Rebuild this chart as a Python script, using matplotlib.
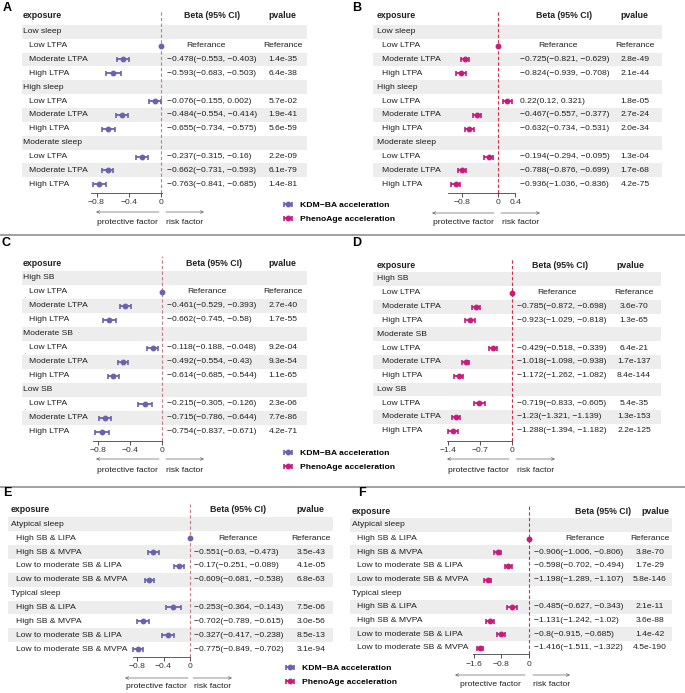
import numpy as np
import matplotlib
matplotlib.use("Agg")
import matplotlib.pyplot as plt

plt.rcParams['font.family'] = ['Liberation Sans', 'DejaVu Sans']

# ---- data ----
sleep_groups = ["Low sleep", "High sleep", "Moderate sleep"]
sb_groups = ["High SB", "Moderate SB", "Low SB"]
ltpa_items = ["Low LTPA", "Moderate LTPA", "High LTPA"]
pattern_groups = ["Atypical sleep", "Typical sleep"]
pattern_items = ["High SB & LIPA", "High SB & MVPA", "Low to moderate SB & LIPA", "Low to moderate SB & MVPA"]

a_beta = [0, -0.478, -0.593, -0.076, -0.484, -0.655, -0.237, -0.662, -0.763]
a_lo = [0, -0.553, -0.683, -0.155, -0.554, -0.734, -0.315, -0.731, -0.841]
a_hi = [0, -0.403, -0.503, 0.002, -0.414, -0.575, -0.16, -0.593, -0.685]
a_p = ["Referance", "1.4e-35", "6.4e-38", "5.7e-02", "1.9e-41", "5.6e-59", "2.2e-09", "6.1e-79", "1.4e-81"]

b_beta = [0, -0.725, -0.824, 0.22, -0.467, -0.632, -0.194, -0.788, -0.936]
b_lo = [0, -0.821, -0.939, 0.12, -0.557, -0.734, -0.294, -0.876, -1.036]
b_hi = [0, -0.629, -0.708, 0.321, -0.377, -0.531, -0.095, -0.699, -0.836]
b_p = ["Referance", "2.8e-49", "2.1e-44", "1.8e-05", "2.7e-24", "2.0e-34", "1.3e-04", "1.7e-68", "4.2e-75"]

c_beta = [0, -0.461, -0.662, -0.118, -0.492, -0.614, -0.215, -0.715, -0.754]
c_lo = [0, -0.529, -0.745, -0.188, -0.554, -0.685, -0.305, -0.786, -0.837]
c_hi = [0, -0.393, -0.58, -0.048, -0.43, -0.544, -0.126, -0.644, -0.671]
c_p = ["Referance", "2.7e-40", "1.7e-55", "9.2e-04", "9.3e-54", "1.1e-65", "2.3e-06", "7.7e-86", "4.2e-71"]

d_beta = [0, -0.785, -0.923, -0.429, -1.018, -1.172, -0.719, -1.23, -1.288]
d_lo = [0, -0.872, -1.029, -0.518, -1.098, -1.262, -0.833, -1.321, -1.394]
d_hi = [0, -0.698, -0.818, -0.339, -0.938, -1.082, -0.605, -1.139, -1.182]
d_p = ["Referance", "3.6e-70", "1.3e-65", "6.4e-21", "1.7e-137", "8.4e-144", "5.4e-35", "1.3e-153", "2.2e-125"]

e_beta = [0, -0.551, -0.17, -0.609, -0.253, -0.702, -0.327, -0.775]
e_lo = [0, -0.63, -0.251, -0.681, -0.364, -0.789, -0.417, -0.849]
e_hi = [0, -0.473, -0.089, -0.538, -0.143, -0.615, -0.238, -0.702]
e_p = ["Referance", "3.5e-43", "4.1e-05", "6.8e-63", "7.5e-06", "3.0e-56", "8.5e-13", "3.1e-94"]

f_beta = [0, -0.906, -0.598, -1.198, -0.485, -1.131, -0.8, -1.416]
f_lo = [0, -1.006, -0.702, -1.289, -0.627, -1.242, -0.915, -1.511]
f_hi = [0, -0.806, -0.494, -1.107, -0.343, -1.02, -0.685, -1.322]
f_p = ["Referance", "3.8e-70", "1.7e-29", "5.8e-146", "2.1e-11", "3.6e-88", "1.4e-42", "4.5e-190"]

kdm_label = "KDM\u2212BA acceleration"
pheno_label = "PhenoAge acceleration"
kdm_col = "#6B62AE"
pheno_col = "#C61C7C"

W, H = 685, 693
fig = plt.figure(figsize=(W / 100, H / 100), dpi=100)
bg = fig.add_axes([0, 0, 1, 1])
bg.set_xlim(0, W)
bg.set_ylim(H, 0)
bg.axis('off')
TXT = "#1e1e1e"
FS = 6.1


def fmt(v):
    return f"{v:g}".replace("-", "\u2212")


def px_axes(left, top, right, bottom):
    return fig.add_axes([left / W, 1 - bottom / H, (right - left) / W, (bottom - top) / H])


def panel(letter, groups, items, beta, lo, hi, pv, col, refc, lay):
    beta, lo, hi = np.array(beta), np.array(lo), np.array(hi)
    r0, st = lay['row0'], lay['step']
    bg.text(lay['let'][0], lay['let'][1], letter, fontsize=9, fontweight='bold', ha='left', va='center')
    hy = lay['head_y']
    bg.text(lay['grp'], hy, "exposure", fontsize=FS + 0.2, fontweight='bold', va='center', color=TXT)
    bg.text(lay['bhead'], hy, "Beta (95% CI)", fontsize=FS + 0.2, fontweight='bold', va='center', ha='center', color=TXT)
    bg.text(lay['phead'], hy, "pvalue", fontsize=FS + 0.2, fontweight='bold', va='center', ha='center', color=TXT)

    ypos = []
    k = 0
    row = 0
    for g in groups:
        for r in range(len(items) + 1):
            y = r0 + (row + r) * st
            if (row + r) % 2 == 0:
                bg.add_patch(plt.Rectangle((lay['band'][0], y - st / 2), lay['band'][1] - lay['band'][0], st,
                                           color="#EDEDED", lw=0, zorder=0))
        bg.text(lay['grp'], r0 + row * st, g, fontsize=FS, va='center', color=TXT)
        row += 1
        for it in items:
            y = r0 + row * st
            bg.text(lay['item'], y, it, fontsize=FS, va='center', color=TXT)
            if pv[k] == "Referance":
                bg.text(lay['bref'], y, "Referance", fontsize=FS, va='center', ha='center', color=TXT)
            else:
                bg.text(lay['beta'], y, f"{fmt(beta[k])}({fmt(lo[k])}, {fmt(hi[k])})", fontsize=FS,
                        va='center', color=TXT)
            bg.text(lay['pc'], y, pv[k], fontsize=FS, va='center', ha='center', color=TXT)
            ypos.append(row)
            row += 1
            k += 1

    x0, sc = lay['x0'], lay['scale']
    xl = lay['xlim']
    ax = px_axes(x0 + xl[0] * sc, r0 - 1.5 * st, x0 + xl[1] * sc, lay['axis_y'])
    ax.set_xlim(xl)
    ax.set_ylim((lay['axis_y'] - r0) / st, -1.5)
    ax.patch.set_alpha(0)
    for s in ['top', 'left', 'right']:
        ax.spines[s].set_visible(False)
    ax.spines['bottom'].set_linewidth(0.6)
    ax.spines['bottom'].set_color('#444444')
    ax.set_yticks([])
    ax.axvline(0, color=refc, lw=0.8, ls=(0, (3, 2)), clip_on=False, zorder=1)
    eb = ax.errorbar(beta, ypos, xerr=[beta - lo, hi - beta], fmt='o', color=col, ms=3.2,
                     capsize=1.8, elinewidth=1.3, capthick=1.2, clip_on=False, zorder=3,
                     label=lay['lab'])
    ax.set_xticks(lay['ticks'])
    ax.set_xticklabels([fmt(t) for t in lay['ticks']])
    ax.tick_params(axis='x', length=3, width=0.6, labelsize=FS, pad=1.5, colors='#333333')

    ay, ty = lay['arrow_y'], lay['text_y']
    la, ra = lay['la'], lay['ra']
    aprops = dict(arrowstyle='->', lw=0.5, color='#666666', shrinkA=0, shrinkB=0, mutation_scale=5)
    bg.annotate('', xy=(la[0], ay), xytext=(la[1], ay), arrowprops=aprops)
    bg.annotate('', xy=(ra[1], ay), xytext=(ra[0], ay), arrowprops=aprops)
    bg.text((la[0] + la[1]) / 2, ty, "protective factor", fontsize=FS, ha='center', va='center', color=TXT)
    bg.text((ra[0] + ra[1]) / 2, ty, "risk factor", fontsize=FS, ha='center', va='center', color=TXT)
    return eb


lay_a = dict(let=(3, 8), head_y=15.7, row0=31.7, step=13.87, axis_y=192.7, band=(22, 307), grp=23, item=29,
             beta=167, bref=206, bhead=212, pc=283, phead=282, x0=161.3, scale=81, xlim=(-0.87, 0.003),
             ticks=[-0.8, -0.4, 0], la=(96, 159), ra=(166, 204), arrow_y=212, text_y=222, lab=kdm_label)
lay_b = dict(let=(352, 8), head_y=15.7, row0=31.7, step=13.87, axis_y=192.5, band=(373, 662), grp=377, item=382,
             beta=520, bref=558, bhead=564, pc=635, phead=634, x0=497.5, scale=44.6, xlim=(-1.1, 0.4),
             ticks=[-0.8, 0, 0.4], la=(432, 494), ra=(501, 540), arrow_y=213, text_y=222.7, lab=pheno_label)
lay_c = dict(let=(2, 243.3), head_y=263, row0=277.5, step=14.0, axis_y=441, band=(22, 307), grp=23, item=29,
             beta=167, bref=207, bhead=214, pc=283, phead=282, x0=162.3, scale=80, xlim=(-0.87, 0.0),
             ticks=[-0.8, -0.4, 0], la=(96, 159), ra=(166, 204), arrow_y=459, text_y=470, lab=kdm_label)
lay_d = dict(let=(352, 243.3), head_y=265, row0=279, step=13.8, axis_y=441, band=(373, 661), grp=377, item=382,
             beta=517, bref=557, bhead=560, pc=634, phead=630, x0=512.4, scale=45.9, xlim=(-1.43, 0.0),
             ticks=[-1.4, -0.7, 0], la=(447, 509), ra=(516, 555), arrow_y=459, text_y=470, lab=pheno_label)
lay_e = dict(let=(3, 493), head_y=509, row0=524.3, step=13.86, axis_y=656.7, band=(8, 333), grp=11, item=16,
             beta=194.3, bref=238.3, bhead=238, pc=311, phead=310, x0=190.4, scale=67.2, xlim=(-0.86, 0.0),
             ticks=[-0.8, -0.4, 0], la=(125, 188), ra=(193, 232), arrow_y=678, text_y=687, lab=kdm_label)
lay_f = dict(let=(358, 493), head_y=511, row0=525, step=13.65, axis_y=654.3, band=(350, 672), grp=352, item=357,
             beta=534, bref=585, bhead=603, pc=650, phead=655, x0=529.2, scale=34.7, xlim=(-1.62, 0.0),
             ticks=[-1.6, -0.8, 0], la=(455, 525), ra=(533, 570), arrow_y=675, text_y=684, lab=pheno_label)

h_kdm = panel("A", sleep_groups, ltpa_items, a_beta, a_lo, a_hi, a_p, kdm_col, "#C27E86", lay_a)
h_pheno = panel("B", sleep_groups, ltpa_items, b_beta, b_lo, b_hi, b_p, pheno_col, "#D22B45", lay_b)
panel("C", sb_groups, ltpa_items, c_beta, c_lo, c_hi, c_p, kdm_col, "#C27E86", lay_c)
panel("D", sb_groups, ltpa_items, d_beta, d_lo, d_hi, d_p, pheno_col, "#D22B45", lay_d)
panel("E", pattern_groups, pattern_items, e_beta, e_lo, e_hi, e_p, kdm_col, "#C27E86", lay_e)
panel("F", pattern_groups, pattern_items, f_beta, f_lo, f_hi, f_p, pheno_col, "#D22B45", lay_f)

# legends between the panel columns
for lx, ly in [(281, 201), (281, 449), (283, 664)]:
    fig.legend(handles=[h_kdm, h_pheno], loc='upper left', bbox_to_anchor=(lx / W, 1 - ly / H),
               frameon=False, prop={'weight': 'bold', 'size': FS}, borderpad=0, borderaxespad=0,
               handlelength=1.6, handletextpad=0.6, labelspacing=0.75)

# separators between rows of panels
for sy in [235, 487]:
    bg.plot([0, W], [sy, sy], color="#999999", lw=1.3)

fig.savefig("out.png", dpi=100)
